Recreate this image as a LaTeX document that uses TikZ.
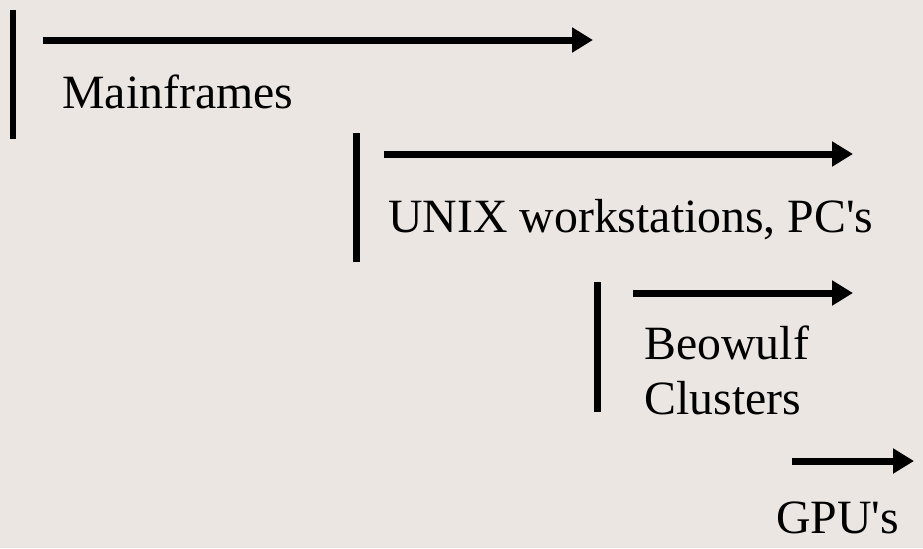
\documentclass[tikz,border=0pt]{standalone}
\usepackage{fontspec}
\setmainfont{Liberation Serif}
\usetikzlibrary{arrows.meta}
\definecolor{slidebg}{RGB}{235,230,226}

\begin{document}
\begin{tikzpicture}
[x=0.02cm, y=-0.02cm,
every node/.style={inner sep=0pt, anchor=base west, align=left,
  font=\fontsize{27.2}{31.3}\selectfont},
startbar/.style={line width=0.14cm},
span/.style={line width=0.14cm, -{Triangle[length=0.42cm,width=0.48cm]}},
]
\fill[slidebg] (0,0) rectangle (923,548);
\useasboundingbox (0,0) rectangle (923,548);

% Mainframes
\coordinate (main-top) at (13,10);   \coordinate (main-bot) at (13,139);
\coordinate (main-from) at (43,40);  \coordinate (main-to) at (593,40);
\draw[startbar] (main-top) -- (main-bot);
\draw[span] (main-from) -- (main-to);
\node (main) at (62,108) {Mainframes};

% workstations
\coordinate (unix-top) at (356,133); \coordinate (unix-bot) at (356,262);
\coordinate (unix-from) at (384,154); \coordinate (unix-to) at (853,154);
\draw[startbar] (unix-top) -- (unix-bot);
\draw[span] (unix-from) -- (unix-to);
\node (unix) at (388,232) {UNIX workstations, PC\textquotesingle s};

% clusters (base sits on the last line)
\coordinate (beo-top) at (597,282);  \coordinate (beo-bot) at (597,412);
\coordinate (beo-from) at (633,293); \coordinate (beo-to) at (853,293);
\draw[startbar] (beo-top) -- (beo-bot);
\draw[span] (beo-from) -- (beo-to);
\node (beo) at (644,414) {Beowulf\\Clusters};

% GPUs
\coordinate (gpu-from) at (792,461); \coordinate (gpu-to) at (914,461);
\draw[span] (gpu-from) -- (gpu-to);
\node (gpu) at (776,533) {GPU\textquotesingle s};
\end{tikzpicture}
\end{document}
